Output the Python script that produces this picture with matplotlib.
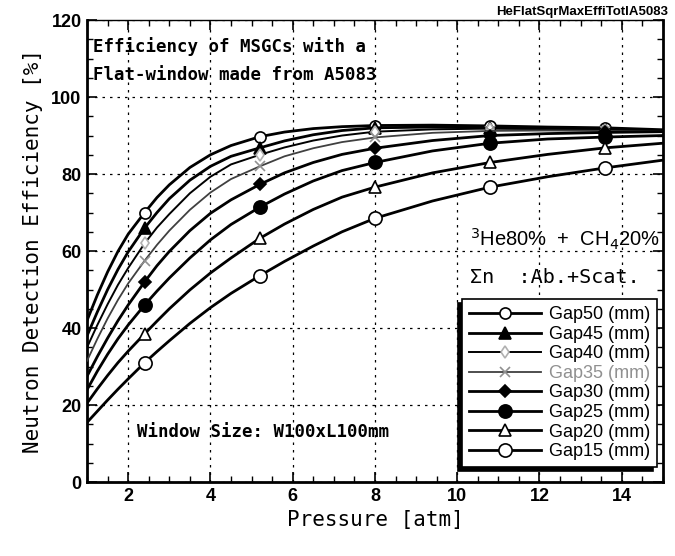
"""Neutron detection efficiency vs pressure for several MSGC gaps."""

import matplotlib

matplotlib.use("Agg")
import matplotlib.pyplot as plt
from matplotlib.ticker import MultipleLocator

# pressure points [atm]
pressure = [1.0, 1.25, 1.5, 1.75, 2.0, 2.4, 2.7, 3.0, 3.5, 4.0, 4.5, 5.2, 5.8,
            6.5, 7.2, 8.0, 9.4, 10.8, 12.2, 13.6, 15.0]
marker_p = [2.4, 5.2, 8.0, 10.8, 13.6]

gap50 = [42, 48.6, 54.6, 59.9, 64.4, 70, 73.9, 77.2, 81.7, 85, 87.4, 89.7, 90.9,
         91.8, 92.3, 92.6, 92.7, 92.5, 92.2, 92, 91.5]
gap45 = [38, 44.2, 50, 55.2, 59.8, 66, 70, 73.6, 78.4, 82, 84.6, 86.8, 88.6, 90.2,
         91.3, 92, 92.2, 92, 91.8, 91.6, 91.2]
gap40 = [35, 40.8, 46.2, 51.2, 55.6, 62, 66.1, 69.6, 75, 79.3, 82.5, 85, 86.9,
         88.7, 90, 91, 91.6, 91.8, 91.7, 91.5, 91]
gap35 = [31.5, 37.2, 42.5, 47.3, 51.6, 57.5, 61.6, 65.3, 70.7, 75.2, 78.7, 82,
         84.6, 86.7, 88.3, 89.5, 90.7, 91.2, 91.3, 91.2, 91]
gap30 = [27.5, 32.6, 37.4, 41.9, 46, 52, 56.2, 59.9, 65.3, 69.8, 73.3, 77.3,
         80.3, 83, 85.1, 86.7, 88.7, 90, 90.5, 90.8, 91]
gap25 = [24, 28.8, 33.2, 37.2, 40.8, 46, 49.6, 53, 58.2, 62.9, 66.9, 71.4, 74.8,
         78.2, 80.9, 83, 86, 88, 89.1, 89.6, 90]
gap20 = [20.5, 24.2, 27.7, 31, 34, 38.5, 41.8, 45, 49.9, 54.3, 58.2, 63.3, 67,
         70.8, 74, 76.6, 80.3, 83, 85.1, 86.8, 88]
gap15 = [15.5, 18.4, 21.3, 24.1, 26.8, 31, 33.9, 36.7, 41.2, 45.3, 49, 53.6,
         57.3, 61.3, 65, 68.5, 73, 76.6, 79.3, 81.6, 83.6]

labels = ["Gap50", "Gap45", "Gap40", "Gap35", "Gap30", "Gap25", "Gap20", "Gap15"]
series = [gap50, gap45, gap40, gap35, gap30, gap25, gap20, gap15]

# marker, size, face, edge, line colour, line width
styles = [
    ("o", 8, "white", "black", "black", 2.0),
    ("^", 8, "black", "black", "black", 2.0),
    ("d", 6, "white", "#b0b0b0", "black", 1.4),
    ("x", 7, "none", "#909090", "#404040", 1.3),
    ("D", 6, "black", "black", "black", 2.0),
    ("o", 9.5, "black", "black", "black", 2.0),
    ("^", 8, "white", "black", "black", 2.0),
    ("o", 9.5, "white", "black", "black", 2.0),
]

plt.rcParams["font.family"] = ["Liberation Sans", "DejaVu Sans"]
mono = "DejaVu Sans Mono"

fig = plt.figure(figsize=(6.75, 5.56), dpi=100)
ax = fig.add_axes([0.129, 0.133, 0.853, 0.831])

mark_idx = [pressure.index(p) for p in marker_p]
for lab, ys, (m, ms, fc, ec, lc, lw) in zip(labels, series, styles):
    ax.plot(pressure, ys, color=lc, lw=lw, marker=m, ms=ms, mfc=fc, mec=ec,
            mew=1.2, markevery=mark_idx, label=f"{lab} (mm)",
            solid_joinstyle="round", zorder=3)

ax.set_xlim(1, 15)
ax.set_ylim(0, 120)
ax.xaxis.set_major_locator(MultipleLocator(2))
ax.xaxis.set_minor_locator(MultipleLocator(0.5))
ax.yaxis.set_major_locator(MultipleLocator(20))
ax.yaxis.set_minor_locator(MultipleLocator(5))
ax.set_xticks([2, 4, 6, 8, 10, 12, 14])
ax.tick_params(which="both", direction="in", top=True, right=True)
ax.tick_params(which="major", length=7, width=1.2, labelsize=13, pad=4)
ax.tick_params(which="minor", length=4, width=1)
for lbl in ax.get_xticklabels() + ax.get_yticklabels():
    lbl.set_fontweight("bold")
ax.grid(True, which="major", ls=(0, (2, 4)), color="black", lw=0.9)
for side, w in [("left", 2), ("bottom", 2), ("right", 2), ("top", 1)]:
    ax.spines[side].set_linewidth(w)

ax.set_xlabel("Pressure [atm]", family=mono, fontsize=15, labelpad=4)
ax.set_ylabel("Neutron Detection Efficiency [%]", family=mono, fontsize=15, labelpad=6)

ax.text(1.15, 113, "Efficiency of MSGCs with a", family=mono, fontsize=12.5,
        fontweight="bold", va="center")
ax.text(1.15, 105.7, "Flat-window made from A5083", family=mono, fontsize=12.5,
        fontweight="bold", va="center")
ax.text(2.22, 13, "Window Size: W100xL100mm", family=mono, fontsize=12.5,
        fontweight="bold", va="center")
ax.text(10.3, 63, r"$^{3}$He80%  +  CH$_{4}$20%", fontsize=14.5, va="center")
ax.text(10.3, 53, "Σn  :Ab.+Scat.", family=mono, fontsize=14.5, va="center")
fig.text(0.99, 0.978, "HeFlatSqrMaxEffiTotlA5083", fontsize=9.5, fontweight="bold",
         ha="right", va="center")

leg = ax.legend(loc="lower right", bbox_to_anchor=(0.99, 0.032), fontsize=13,
                handlelength=4, labelspacing=0.14, borderpad=0.4, handletextpad=0.4,
                borderaxespad=0, fancybox=False, framealpha=1, edgecolor="black",
                shadow={"ox": -3, "oy": -3, "color": "black", "alpha": 1})
leg.get_frame().set_linewidth(1.2)
leg.get_texts()[3].set_color("#909090")

fig.savefig("out.png", dpi=100)
